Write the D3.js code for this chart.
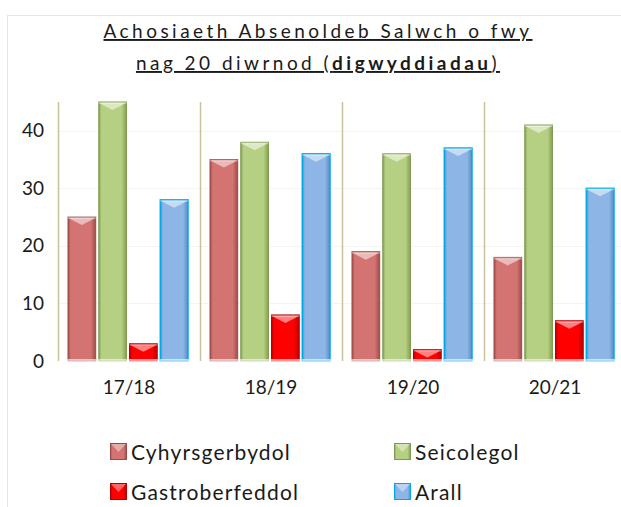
<!DOCTYPE html>
<html>
<head>
<meta charset="utf-8">
<script src="https://cdnjs.cloudflare.com/ajax/libs/d3/7.8.5/d3.min.js"></script>
<style>
body { margin: 0; background: #fff; }
svg { display: block; }
</style>
</head>
<body>
<div id="chart"></div>
<script>
// chart data
var years = ["17/18", "18/19", "19/20", "20/21"];
var seriesNames = ["Cyhyrsgerbydol", "Seicolegol", "Gastroberfeddol", "Arall"];
var cyhyrs = [25, 35, 19, 18];
var seicol = [45, 38, 36, 41];
var gastro = [3, 8, 2, 7];
var arall = [28, 36, 37, 30];
var yTicks = [0, 10, 20, 30, 40];

var fills = ["#d37472", "#b6d083", "#ff0000", "#8db6e6"];
var darks = ["#9f4d4b", "#83a053", "#b80000", "#5a8cc8"];
var strokes = ["#9b4a48", "#7f9a50", "#b00000", "#00a8e6"];

var W = 621, H = 507;
var margin = {top: 102, left: 58, bottom: 146, right: -5};
var font = "Lato, 'Open Sans', sans-serif";

var svg = d3.select("#chart").append("svg")
  .attr("width", W).attr("height", H);

var defs = svg.append("defs");
fills.forEach(function(c, i){
  var g = defs.append("linearGradient").attr("id", "g" + i)
    .attr("x1", "0").attr("x2", "1").attr("y1", "0").attr("y2", "0");
  g.append("stop").attr("offset", "0").attr("stop-color", darks[i]);
  g.append("stop").attr("offset", "0.1").attr("stop-color", c);
  g.append("stop").attr("offset", "0.82").attr("stop-color", c);
  g.append("stop").attr("offset", "1").attr("stop-color", darks[i]);
});

// outer frame
svg.append("rect").attr("x", 7.5).attr("y", 15.5).attr("width", 620).attr("height", 500)
  .attr("fill", "none").attr("stroke", "#e6e6e6");

var x = d3.scaleBand().domain(years).range([margin.left, W - margin.right]).paddingInner(0).paddingOuter(0);
var x1 = d3.scaleBand().domain(d3.range(4)).range([10, x.bandwidth() - 12]).paddingInner(0.1);
var y = d3.scaleLinear().domain([0, 45]).range([H - margin.bottom, margin.top]);

// gridlines
svg.append("g").selectAll("line").data(yTicks.slice(1)).join("line")
  .attr("x1", margin.left).attr("x2", W)
  .attr("y1", function(d){ return Math.round(y(d)) + 0.5; })
  .attr("y2", function(d){ return Math.round(y(d)) + 0.5; })
  .attr("stroke", "#f4f4f4");

// category dividers
svg.append("g").selectAll("line").data(years).join("line")
  .attr("x1", function(d){ return Math.round(x(d)) + 0.5; })
  .attr("x2", function(d){ return Math.round(x(d)) + 0.5; })
  .attr("y1", y(45)).attr("y2", y(0))
  .attr("stroke", "#c9c29c").attr("stroke-width", 1.5);

// y axis
var yAxis = svg.append("g").attr("transform", "translate(" + margin.left + ",0)")
  .call(d3.axisLeft(y).tickValues(yTicks).tickSize(0).tickPadding(14));
yAxis.select(".domain").remove();
yAxis.selectAll("text").attr("font-family", font)
  .attr("font-size", 19).attr("fill", "#1a1a1a");

// x axis
var xAxis = svg.append("g").attr("transform", "translate(0," + y(0) + ")")
  .call(d3.axisBottom(x).tickSize(0).tickPadding(20));
xAxis.select(".domain").remove();
xAxis.selectAll("text").attr("font-family", font)
  .attr("font-size", 19).attr("fill", "#1a1a1a");

var allSeries = [cyhyrs, seicol, gastro, arall];
var bars = [];
years.forEach(function(yr, j){
  allSeries.forEach(function(s, i){
    bars.push({year: yr, s: i, v: s[j]});
  });
});

var bg = svg.append("g");
bars.forEach(function(b){
  var bx = x(b.year) + x1(b.s), bw = x1.bandwidth();
  var top = y(b.v), bot = y(0);
  bg.append("rect").attr("x", bx).attr("y", top).attr("width", bw).attr("height", bot - top)
    .attr("fill", "url(#g" + b.s + ")").attr("stroke", strokes[b.s]).attr("stroke-width", b.s == 3 ? 1.5 : 1);
  // top bevel highlight
  var bev = 8;
  bg.append("path")
    .attr("d", "M" + (bx + 1) + "," + (top + 1) + "L" + (bx + bw - 1) + "," + (top + 1) +
      "L" + (bx + bw - 4) + "," + (top + 3) + "L" + (bx + bw / 2) + "," + (top + bev) +
      "L" + (bx + 4) + "," + (top + 3) + "Z")
    .attr("fill", "#fff").attr("opacity", 0.5);
  bg.append("rect").attr("x", bx).attr("y", top).attr("width", bw).attr("height", 2)
    .attr("fill", "#fff").attr("opacity", 0.35);
  // bottom reflection
  bg.append("rect").attr("x", bx - 1).attr("y", bot - 2).attr("width", bw + 2).attr("height", 4)
    .attr("fill", "#fff").attr("opacity", 0.6);
});

// title, spaced out to the reference width
var tcx = 318;
var t1 = svg.append("text").attr("x", tcx).attr("y", 38).attr("text-anchor", "middle")
  .attr("font-family", font).attr("font-size", 19).attr("fill", "#1a1a1a")
  .attr("text-decoration", "underline").text("Achosiaeth Absenoldeb Salwch o fwy");
var n1 = t1.text().length;
var sp = (429 - t1.node().getComputedTextLength()) / n1;
t1.attr("letter-spacing", sp);
var t2 = svg.append("text").attr("x", tcx).attr("y", 70).attr("text-anchor", "middle")
  .attr("font-family", font).attr("font-size", 19).attr("fill", "#1a1a1a")
  .attr("text-decoration", "underline").attr("letter-spacing", sp);
t2.append("tspan").text("nag 20 diwrnod (");
t2.append("tspan").attr("font-weight", "bold").text("digwyddiadau");
t2.append("tspan").text(")");

// legend
var legPos = [[110, 452], [394, 452], [110, 492], [394, 492]];
var legSp = null;
seriesNames.forEach(function(n, i){
  var g = svg.append("g").attr("transform", "translate(" + legPos[i][0] + "," + legPos[i][1] + ")");
  g.append("rect").attr("x", 0.5).attr("y", -8.5).attr("width", 16).attr("height", 16)
    .attr("fill", "url(#g" + i + ")").attr("stroke", strokes[i]);
  g.append("path").attr("d", "M1,-8L16,-8L8.5,0Z").attr("fill", "#fff").attr("opacity", 0.4);
  var t = g.append("text").attr("x", 21).attr("y", 8).text(n)
    .attr("font-family", font).attr("font-size", 21).attr("fill", "#1a1a1a");
  if (legSp === null) legSp = Math.max(0, (160 - t.node().getComputedTextLength()) / n.length);
  t.attr("letter-spacing", legSp);
});
</script>
</body>
</html>
